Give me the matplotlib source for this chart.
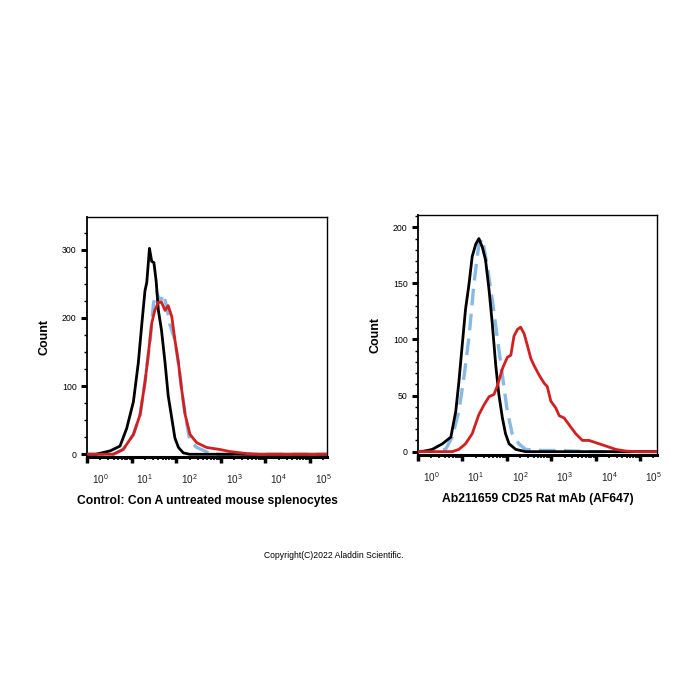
import matplotlib.pyplot as plt
import numpy as np
from matplotlib.ticker import FixedLocator, LogLocator, MultipleLocator, NullFormatter
from matplotlib.transforms import ScaledTranslation, blended_transform_factory

plt.rcParams["font.family"] = ["Liberation Sans", "DejaVu Sans"]
plt.rcParams["mathtext.fontset"] = "custom"
plt.rcParams["mathtext.rm"] = "Liberation Sans"
plt.rcParams["mathtext.it"] = "Liberation Sans"

# fluorescence intensity given as log10 exponent, counts
# --- left panel: Con A untreated ---
l_black_log = [0.0, 0.2, 0.52, 0.74, 0.89, 1.04, 1.15, 1.23, 1.3, 1.34, 1.4, 1.45,
               1.5, 1.55, 1.6, 1.67, 1.75, 1.82, 1.9, 1.97, 2.05, 2.16, 2.3, 5.4]
l_black_cnt = [0, 0, 5, 12, 38, 77, 134, 192, 240, 252, 302, 283,
               281, 254, 211, 182, 134, 86, 53, 24, 10, 2, 0, 0]

l_blue_log = [0.0, 0.59, 0.81, 1.04, 1.19, 1.3, 1.37, 1.42, 1.49, 1.56, 1.64, 1.71,
              1.79, 1.86, 1.97, 2.05, 2.12, 2.2, 2.31, 2.46, 2.6, 2.8, 5.4]
l_blue_cnt = [0, 0, 7, 29, 58, 106, 144, 170, 221, 238, 223, 235,
              216, 190, 168, 134, 96, 58, 19, 10, 6, 0, 0]

l_red_log = [0.0, 0.59, 0.81, 1.04, 1.19, 1.3, 1.37, 1.45, 1.52, 1.6, 1.67, 1.75,
             1.82, 1.9, 1.97, 2.05, 2.12, 2.2, 2.31, 2.46, 2.68, 2.98, 3.2, 3.58,
             3.8, 5.4]
l_red_cnt = [0, 0, 7, 29, 58, 106, 144, 192, 211, 223, 223, 211,
             218, 202, 168, 134, 96, 58, 29, 17, 10, 7, 4, 1,
             0, 0]

# --- right panel: CD25 stained ---
r_black_log = [0.0, 0.1, 0.32, 0.55, 0.74, 0.85, 0.92, 1.0, 1.07, 1.15, 1.22, 1.3,
               1.37, 1.45, 1.52, 1.6, 1.67, 1.75, 1.82, 1.9, 1.97, 2.05, 2.2, 2.42,
               5.4]
r_black_cnt = [0, 0, 2, 7, 13, 36, 62, 97, 127, 150, 174, 185,
               190, 182, 171, 144, 115, 77, 51, 30, 16, 7, 2, 0,
               0]

r_blue_log = [0.0, 0.62, 0.77, 0.92, 1.04, 1.15, 1.26, 1.37, 1.45, 1.56, 1.67, 1.79,
              1.9, 2.01, 2.12, 2.27, 2.42, 2.8, 3.18, 3.9, 5.4]
r_blue_cnt = [0, 2, 13, 36, 68, 103, 150, 185, 190, 165, 136, 100,
              68, 36, 16, 7, 2, 1, 1, 0, 0]

r_red_log = [0.0, 0.77, 0.92, 1.07, 1.22, 1.37, 1.49, 1.6, 1.71, 1.79, 1.9, 2.01,
             2.09, 2.16, 2.24, 2.31, 2.39, 2.46, 2.54, 2.61, 2.73, 2.84, 2.91, 2.99,
             3.1, 3.18, 3.29, 3.4, 3.55, 3.7, 3.85, 4.0, 4.23, 4.45, 4.68, 4.9, 5.4]
r_red_cnt = [0, 0, 2, 7, 16, 33, 42, 49, 51, 59, 74, 84,
             86, 103, 109, 111, 105, 95, 83, 77, 68, 61, 58, 45,
             39, 32, 30, 24, 16, 10, 10, 8, 5, 2, 0.5, 0, 0]

x_exponents = [0, 1, 2, 3, 4, 5]
left_yticks = [0, 100, 200, 300]
right_yticks = [0, 50, 100, 150, 200]

left_title = "Control: Con A untreated mouse splenocytes"
right_title = "Ab211659 CD25 Rat mAb (AF647)"
copyright_text = "Copyright(C)2022 Aladdin Scientific."

RED = "#d21f1f"
BLUE = "#86b9e3"

fig = plt.figure(figsize=(7, 7), dpi=100)
ax_l = fig.add_axes([87 / 700, 243 / 700, 240 / 700, 240 / 700])
ax_r = fig.add_axes([418 / 700, 245 / 700, 239 / 700, 240 / 700])


def draw_panel(ax, black, blue, red, yticks, ylim, yminor, title):
    ax.plot(10 ** np.array(blue[0]), blue[1], color=BLUE, lw=2.4,
            dashes=(5, 2.5), zorder=2)
    ax.plot(10 ** np.array(black[0]), black[1], color="black", lw=2.0, zorder=3)
    ax.plot(10 ** np.array(red[0]), red[1], color=RED, lw=2.0, zorder=4)

    ax.set_xscale("log")
    ax.set_xlim(10 ** 0, 10 ** 5.38)
    ax.set_ylim(*ylim)

    ax.xaxis.set_major_locator(FixedLocator([10.0 ** k for k in x_exponents]))
    ax.xaxis.set_minor_locator(LogLocator(base=10, subs=np.arange(2, 10),
                                          numticks=100))
    ax.xaxis.set_major_formatter(NullFormatter())
    ax.xaxis.set_minor_formatter(NullFormatter())
    ax.tick_params(axis="x", which="major", direction="out", length=4, width=2.5)
    ax.tick_params(axis="x", which="minor", direction="out", length=2.5, width=1.2)

    # decade labels sit a little right of their ticks
    trans = blended_transform_factory(ax.transData, ax.transAxes) + \
        ScaledTranslation(3.5 / 72, -11 / 72, fig.dpi_scale_trans)
    for k in x_exponents:
        ax.text(10.0 ** k, 0, f"$10^{{{k}}}$", transform=trans, ha="left",
                va="top", fontsize=7.2, color="#222222")

    ax.set_yticks(yticks)
    ax.yaxis.set_minor_locator(MultipleLocator(yminor))
    ax.tick_params(axis="y", which="major", direction="out", length=4.5,
                   width=2.2, labelsize=6.3, pad=3)
    ax.tick_params(axis="y", which="minor", direction="out", length=2.5, width=1)

    for side in ["top", "right"]:
        ax.spines[side].set_linewidth(1.0)
    ax.spines["left"].set_linewidth(1.3)
    ax.spines["bottom"].set_linewidth(2.2)

    ax.set_ylabel("Count", fontsize=9, fontweight="bold", labelpad=8)
    ax.text(0.5, -0.16, title, transform=ax.transAxes, ha="center", va="top",
            fontsize=8.7, fontweight="bold")


draw_panel(ax_l, (l_black_log, l_black_cnt), (l_blue_log, l_blue_cnt),
           (l_red_log, l_red_cnt), left_yticks, (-4, 348), 25, left_title)
draw_panel(ax_r, (r_black_log, r_black_cnt), (r_blue_log, r_blue_cnt),
           (r_red_log, r_red_cnt), right_yticks, (-3, 211), 10, right_title)

fig.text(334 / 700, 1 - 556 / 700, copyright_text, ha="center", va="center",
         fontsize=6.2)

fig.savefig("out.png", dpi=100, facecolor="white")
